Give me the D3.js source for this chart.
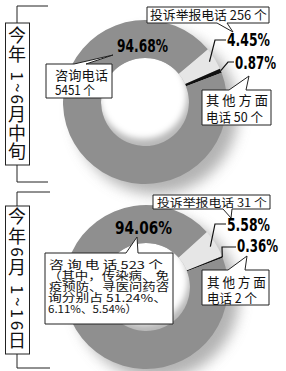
<!DOCTYPE html>
<html>
<head>
<meta charset="utf-8">
<script src="https://cdn.jsdelivr.net/npm/d3@7"></script>
<style>
  body { margin: 0; background: #fff; }
  svg { display: block; }
</style>
</head>
<body>
<div id="chart"></div>
<script>
// data
var categories = ["投诉举报电话", "其他方面电话", "咨询电话"];
var periods = ["今年 1~6月中旬", "今年6月 1~16日"];
var shareTop = [4.45, 0.87, 94.68];      // percent
var shareBottom = [5.58, 0.36, 94.06];
var countTop = [256, 50, 5451];          // calls
var countBottom = [31, 2, 523];
var pctLabelsTop = ["4.45%", "0.87%", "94.68%"];
var pctLabelsBottom = ["5.58%", "0.36%", "94.06%"];
var noteBottom = ["（其中，传染病、免", "疫预防、寻医问药咨", "询分别占 51.24%、", "6.11%、5.54%）"];

var width = 286, height = 371;
var colors = ["#e6e6e6", "#111111", "#8f8f8f"];
var cjk = "'Noto Sans CJK SC','Noto Sans',sans-serif";
var bold = "'DejaVu Sans Condensed','Liberation Sans Narrow',sans-serif";

var svg = d3.select("#chart").append("svg")
  .attr("width", width)
  .attr("height", height);

var defs = svg.append("defs");
defs.append("filter").attr("id", "shadow").attr("x", "-50%").attr("y", "-50%").attr("width", "200%").attr("height", "200%")
  .append("feGaussianBlur").attr("stdDeviation", 7);
defs.append("filter").attr("id", "soft").attr("x", "-50%").attr("y", "-50%").attr("width", "200%").attr("height", "200%")
  .append("feGaussianBlur").attr("stdDeviation", 3);

var rOut = 82, rIn = 44;
var arc = d3.arc().innerRadius(rIn).outerRadius(rOut);

// one panel per period
var panels = [
  {
    shares: shareTop, counts: countTop, pct: pctLabelsTop, period: periods[0],
    cx: 145, cy: 102, start: 50,
    bracket: { top: 6, boxTop: 23, boxBot: 165, bot: 182, right: 48, first: 36, last: 152 },
    pctPos: [[227, 46, 43], [235, 69, 41], [117, 52, 51]],
    knees: [[[215, 40], [226, 40]], [[228, 62], [234, 62]]]
  },
  {
    shares: shareBottom, counts: countBottom, pct: pctLabelsBottom, period: periods[1],
    cx: 146, cy: 287, start: 47.8,
    bracket: { top: 192, boxTop: 206, boxBot: 354, bot: 368, right: 50, first: 217, last: 341 },
    pctPos: [[227, 231, 43], [237, 252, 41], [115, 234, 57]],
    knees: [[[215, 224], [226, 224]], [[222, 247], [236, 247]]]
  }
];

function polar(p, a, r) {
  return [p.cx + r * Math.sin(a), p.cy - r * Math.cos(a)];
}

// callout box with a little tail, drawn as one path
function callout(g, x0, y0, x1, y1, tail) {
  var pts = [[x0, y0]];
  if (tail && tail.side === "top") pts.push([tail.a, y0], tail.apex, [tail.b, y0]);
  pts.push([x1, y0], [x1, y1]);
  if (tail && tail.side === "bottom") pts.push([tail.b, y1], tail.apex, [tail.a, y1]);
  pts.push([x0, y1]);
  g.append("path")
    .attr("d", d3.line()(pts) + "Z")
    .attr("fill", "#fff")
    .attr("stroke", "#222")
    .attr("stroke-width", 1);
}

// text squeezed/stretched horizontally to a given width
function fitText(g, txt, x, y, len, size, family, weight) {
  var t = g.append("text")
    .attr("font-family", family)
    .attr("font-weight", weight || "normal")
    .attr("font-size", size)
    .attr("fill", "#111")
    .text(txt);
  var w = t.node().getComputedTextLength() || len;
  t.attr("transform", "translate(" + x + "," + y + ") scale(" + (len / w) + ",1)");
  return t;
}

function label(g, txt, x, y, len, size) {
  return fitText(g, txt, x, y, len, size || 13, cjk);
}

panels.forEach(function(p, idx) {
  var g = svg.append("g");

  // drop shadow and the hole
  g.append("circle")
    .attr("cx", p.cx + 11).attr("cy", p.cy + 10).attr("r", rOut)
    .attr("fill", "#9a9a9a").attr("opacity", 0.75)
    .attr("filter", "url(#shadow)");
  var clipId = "hole" + idx;
  defs.append("clipPath").attr("id", clipId)
    .append("circle").attr("cx", p.cx).attr("cy", p.cy).attr("r", rIn);
  var hole = g.append("g").attr("clip-path", "url(#" + clipId + ")");
  hole.append("rect")
    .attr("x", p.cx - rIn).attr("y", p.cy - rIn)
    .attr("width", rIn * 2).attr("height", rIn * 2)
    .attr("fill", "#b8b8b8");
  hole.append("circle")
    .attr("cx", p.cx - 2).attr("cy", p.cy - 7).attr("r", rIn)
    .attr("fill", "#fff").attr("filter", "url(#soft)");

  var pie = d3.pie().sort(null).value(function(d) { return d; })
    .startAngle(p.start * Math.PI / 180)
    .endAngle(p.start * Math.PI / 180 + 2 * Math.PI);
  var slices = pie(p.shares);

  g.append("g")
    .attr("transform", "translate(" + p.cx + "," + p.cy + ")")
    .selectAll("path")
    .data(slices)
    .enter()
    .append("path")
    .attr("d", arc)
    .attr("fill", function(d, i) { return colors[i]; });

  // leaders for the two small slices
  var mid0 = (slices[0].startAngle + slices[0].endAngle) / 2;
  var mid1 = (slices[1].startAngle + slices[1].endAngle) / 2;
  var leaders = [
    [polar(p, mid0, 76)].concat(p.knees[0]),
    [polar(p, mid1, rOut)].concat(p.knees[1])
  ];
  leaders.forEach(function(l) {
    g.append("path")
      .attr("d", d3.line()(l))
      .attr("fill", "none")
      .attr("stroke", "#111")
      .attr("stroke-width", 1.2);
  });

  // bold percentages
  p.pct.forEach(function(t, i) {
    fitText(g, t, p.pctPos[i][0], p.pctPos[i][1], p.pctPos[i][2], 18, bold, "bold")
      .attr("fill", "#000");
  });

  // callouts
  if (idx === 0) {
    callout(g, 147, 7, 269, 23, { side: "bottom", a: 217, b: 227, apex: [233, 32] });
    label(g, categories[0] + " " + p.counts[0] + " 个", 150, 20, 117, 12.5);
    callout(g, 46, 64, 112, 98, { side: "top", a: 74, b: 86, apex: [113, 55] });
    label(g, "咨询电话", 55, 80, 53);
    label(g, p.counts[2] + " 个", 55, 95, 40);
    callout(g, 202, 90, 271, 125, { side: "top", a: 229, b: 246, apex: [249, 76] });
    label(g, "其 他 方 面", 206, 105, 62);
    label(g, "电话 " + p.counts[1] + " 个", 206, 122, 57);
  } else {
    callout(g, 153, 195, 270, 209, { side: "bottom", a: 223, b: 232, apex: [231, 218] });
    label(g, categories[0] + " " + p.counts[0] + " 个", 157, 206.5, 110, 11.5);
    callout(g, 45, 253, 173, 324, { side: "top", a: 126, b: 138, apex: [137, 237] });
    label(g, "咨 询 电 话 " + p.counts[2] + " 个", 49, 268.5, 114, 11);
    var lens = [121, 120, 119, 89];
    noteBottom.forEach(function(t, i) {
      label(g, t, i === 1 ? 49 : 48, 279.5 + i * 11, lens[i], 11);
    });
    callout(g, 202, 270, 269, 305, { side: "top", a: 228, b: 245, apex: [247, 256] });
    label(g, "其 他 方 面", 207, 287, 59);
    label(g, "电话 " + p.counts[1] + " 个", 207, 303, 50);
  }

  // bracket with vertical period title
  var b = p.bracket, bx = 17;
  g.append("path")
    .attr("d", d3.line()([[b.right, b.top], [bx, b.top], [bx, b.boxTop]]) + d3.line()([[bx, b.boxBot], [bx, b.bot], [b.right, b.bot]]))
    .attr("fill", "none").attr("stroke", "#222").attr("stroke-width", 1);
  g.append("rect")
    .attr("x", 5.5).attr("y", b.boxTop)
    .attr("width", 24).attr("height", b.boxBot - b.boxTop)
    .attr("fill", "#fff").attr("stroke", "#222").attr("stroke-width", 1);

  // lay the characters out top to bottom, Latin ones turned like vertical text
  var chars = p.period.split("");
  var pos = [], cur = 0;
  chars.forEach(function(c, i) {
    var adv = c === " " ? 6 : (/[\x21-\x7e]/.test(c) ? 11 : 18);
    pos.push(cur + adv / 2);
    cur += adv;
  });
  var keep = chars.map(function(c, i) { return i; }).filter(function(i) { return chars[i] !== " "; });
  var y = d3.scaleLinear()
    .domain([pos[keep[0]], pos[keep[keep.length - 1]]])
    .range([b.first, b.last]);
  keep.forEach(function(i) {
    var c = chars[i], latin = /[\x21-\x7e]/.test(c);
    g.append("text")
      .attr("transform", "translate(" + bx + "," + y(pos[i]) + ")" + (latin ? " rotate(90)" : ""))
      .attr("text-anchor", "middle")
      .attr("dy", "0.36em")
      .attr("font-family", cjk)
      .attr("font-size", latin ? 17 : 18)
      .attr("fill", "#111")
      .text(c);
  });
});
</script>
</body>
</html>
